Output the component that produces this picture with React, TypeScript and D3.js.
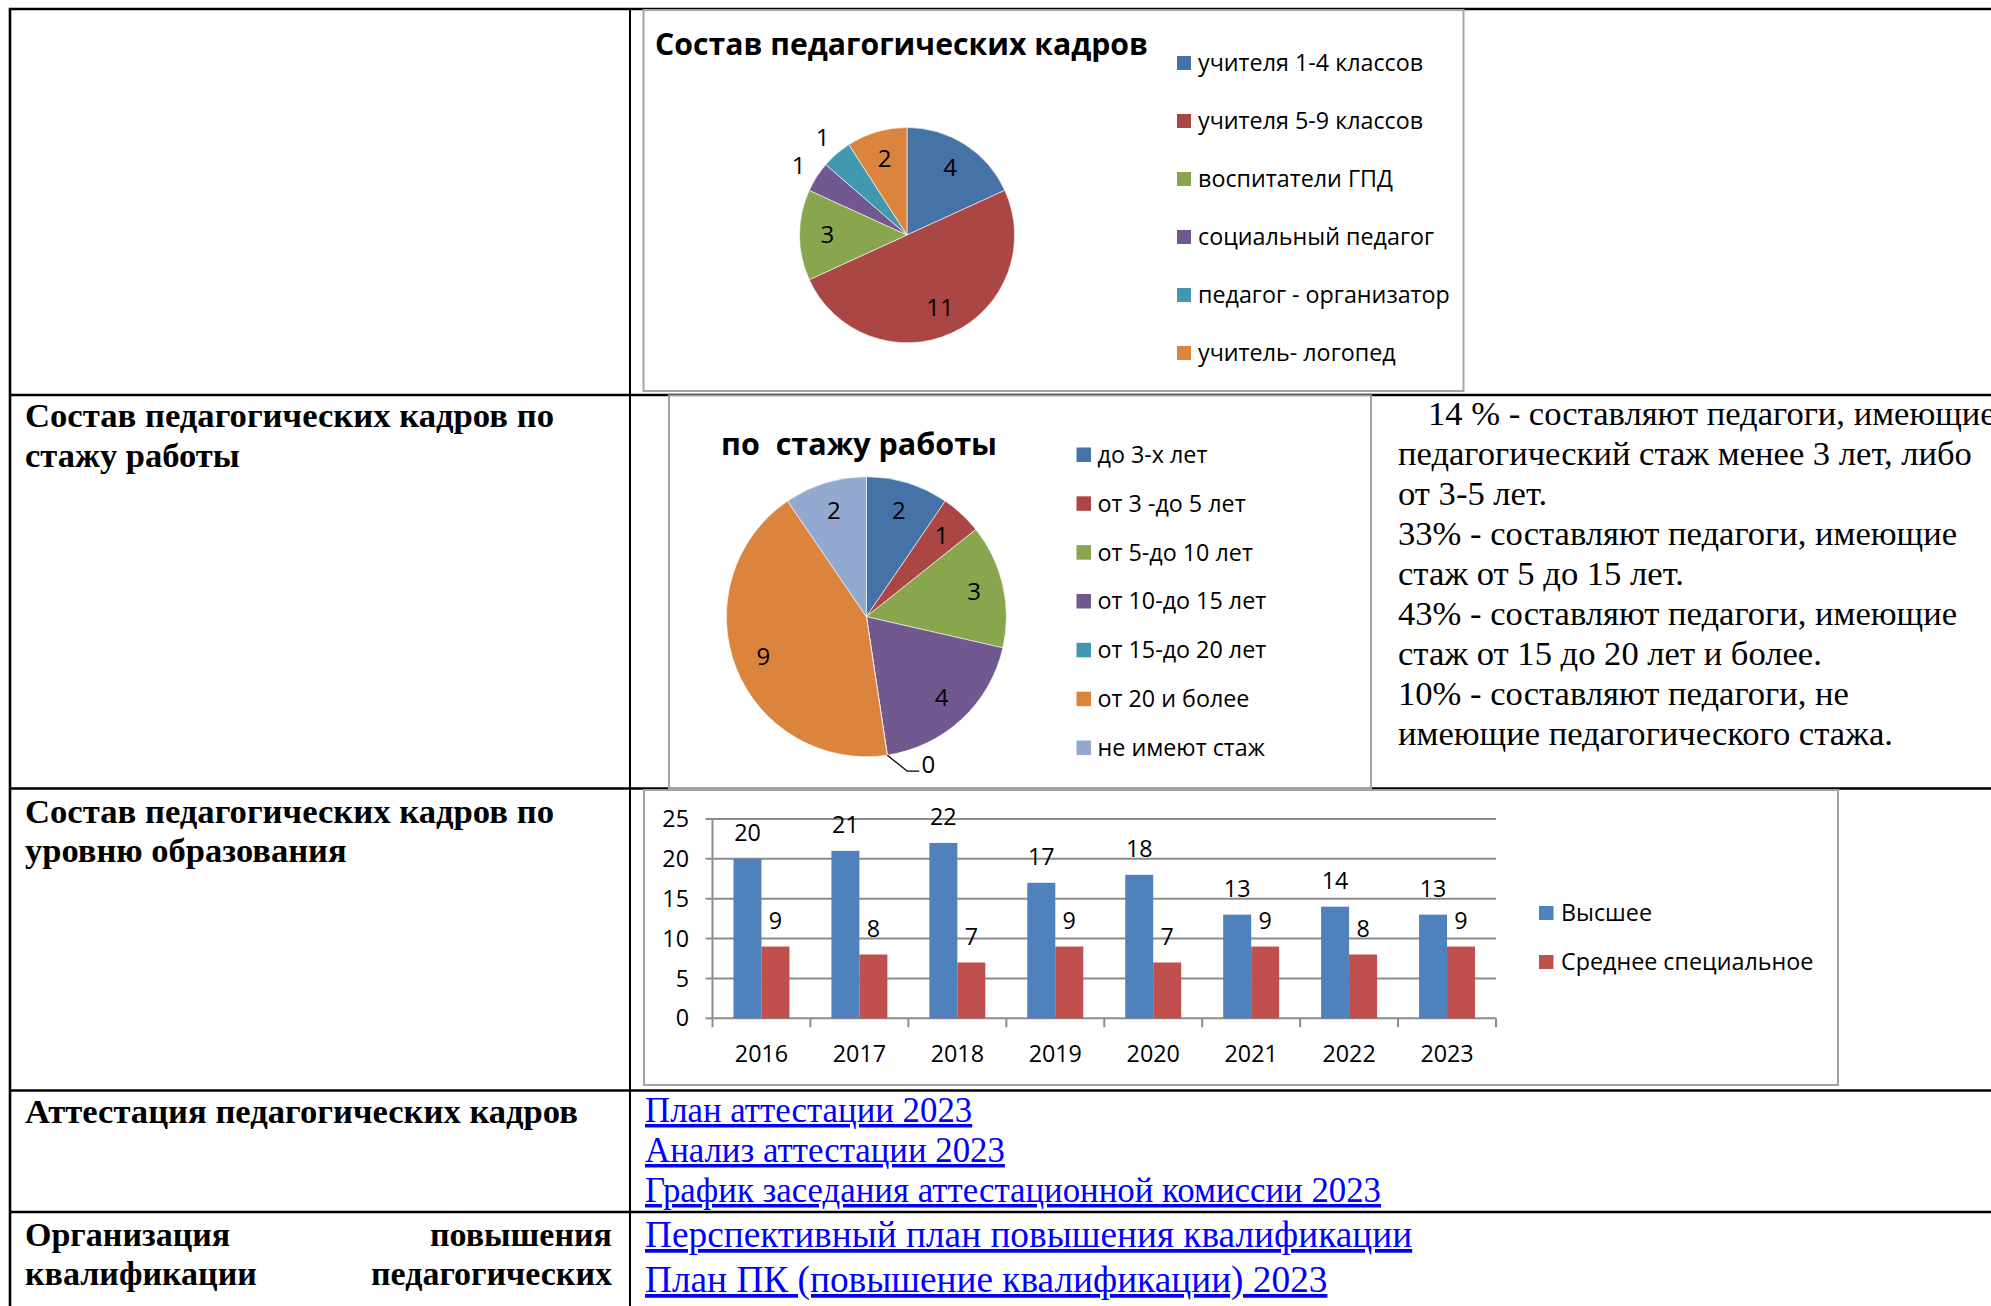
import * as d3 from 'd3';

// pie 1: staff composition
const staffLabels = ['учителя 1-4 классов', 'учителя 5-9 классов', 'воспитатели ГПД', 'социальный педагог', 'педагог - организатор', 'учитель- логопед'];
const staffCounts = [4, 11, 3, 1, 1, 2];

// pie 2: by length of service
const tenureLabels = ['до 3-х лет', 'от 3 -до 5 лет', 'от 5-до 10 лет', 'от 10-до 15 лет', 'от 15-до 20 лет', 'от 20 и более', 'не имеют стаж'];
const tenureCounts = [2, 1, 3, 4, 0, 9, 2];

// bars: level of education
const years = ['2016', '2017', '2018', '2019', '2020', '2021', '2022', '2023'];
const higherEd = [20, 21, 22, 17, 18, 13, 14, 13];
const vocationalEd = [9, 8, 7, 9, 7, 9, 8, 9];
const eduSeries = ['Высшее', 'Среднее специальное'];
const yTicks = [0, 5, 10, 15, 20, 25];

const pieColors = ['#4572A7', '#AA4643', '#89A54E', '#71588F', '#4198AF', '#DB843D', '#93A9CF'];
const barColors = ['#4F81BD', '#C0504D'];

const tenureNotes = [
    '14 % - составляют педагоги, имеющие',
    'педагогический стаж менее 3 лет, либо',
    'от 3-5 лет.',
    '33% - составляют педагоги, имеющие',
    'стаж от 5 до 15 лет.',
    '43% - составляют педагоги, имеющие',
    'стаж от 15 до 20 лет и более.',
    '10% - составляют педагоги, не',
    'имеющие педагогического стажа.',
];
const attestationLinks = ['План аттестации 2023', 'Анализ аттестации 2023', 'График заседания аттестационной комиссии 2023'];
const trainingLinks = ['Перспективный план повышения квалификации', 'План ПК (повышение квалификации) 2023'];

const W = 1991;
const H = 1306;
const sans = "'Open Sans', 'Noto Sans', sans-serif";
const serif = "'Liberation Serif', 'Times New Roman', serif";
const frameStroke = '#a3a3a3';
const chartFs = 23.3;

const pie = d3.pie<number>().sort(null).value(d => d);

function StaffPie() {
    const cx = 907, cy = 235, r = 107.5;
    const arcs = pie(staffCounts);
    const arc = d3.arc<d3.PieArcDatum<number>>().innerRadius(0).outerRadius(r);
    const legendY = d3.scalePoint<number>().domain(d3.range(staffLabels.length)).range([63, 353]);
    return (
        <g>
            <rect x={643.5} y={10} width={820} height={381} fill="#fff" stroke={frameStroke} strokeWidth={2} />
            <text x={655} y={55} fontFamily={sans} fontWeight={700} fontSize={31} textLength={493} lengthAdjust="spacingAndGlyphs">Состав педагогических кадров</text>
            <g transform={`translate(${cx},${cy})`}>
                {arcs.map((a, i) => (
                    <path key={i} d={arc(a) || ''} fill={pieColors[i]} stroke="#fff" strokeWidth={0.6} />
                ))}
                {arcs.map((a, i) => {
                    const mid = (a.startAngle + a.endAngle) / 2;
                    const [x, y] = d3.pointRadial(mid, a.data > 1 ? r * 0.74 : r * 1.2);
                    return (
                        <text key={i} x={x} y={y} textAnchor="middle" dy="0.35em" fontFamily={sans} fontSize={24} fill="#000">{a.data}</text>
                    );
                })}
            </g>
            {staffLabels.map((l, i) => (
                <g key={l} transform={`translate(1177,${legendY(i)})`}>
                    <rect x={0} y={-7} width={14} height={14} fill={pieColors[i]} />
                    <text x={21} dy="0.36em" fontFamily={sans} fontSize={chartFs} fill="#000">{l}</text>
                </g>
            ))}
        </g>
    );
}

function TenurePie() {
    const cx = 866.4, cy = 616.7, r = 140;
    const arcs = pie(tenureCounts);
    const arc = d3.arc<d3.PieArcDatum<number>>().innerRadius(0).outerRadius(r);
    const legendY = d3.scalePoint<number>().domain(d3.range(tenureLabels.length)).range([454.5, 747.5]);
    return (
        <g>
            <rect x={669} y={395.5} width={702} height={392.5} fill="#fff" stroke={frameStroke} strokeWidth={2} />
            <text x={721} y={455} fontFamily={sans} fontWeight={700} fontSize={31} textLength={276} lengthAdjust="spacingAndGlyphs" style={{ whiteSpace: 'pre' }}>по  стажу работы</text>
            <g transform={`translate(${cx},${cy})`}>
                {arcs.map((a, i) => (
                    <path key={i} d={arc(a) || ''} fill={pieColors[i]} stroke="#fff" strokeWidth={0.6} />
                ))}
                {arcs.map((a, i) => {
                    const mid = (a.startAngle + a.endAngle) / 2;
                    if (a.data === 0) {
                        const [x0, y0] = d3.pointRadial(mid, r);
                        const x1 = x0 + 20, y1 = y0 + 16, x2 = x1 + 12;
                        return (
                            <g key={i}>
                                <polyline points={`${x0},${y0} ${x1},${y1} ${x2},${y1}`} fill="none" stroke="#000" strokeWidth={1.3} />
                                <text x={x2 + 9} y={y1 - 7} textAnchor="middle" dy="0.35em" fontFamily={sans} fontSize={24}>{a.data}</text>
                            </g>
                        );
                    }
                    const [x, y] = d3.pointRadial(mid, r * 0.79);
                    return (
                        <text key={i} x={x} y={y} textAnchor="middle" dy="0.35em" fontFamily={sans} fontSize={24} fill="#000">{a.data}</text>
                    );
                })}
            </g>
            {tenureLabels.map((l, i) => (
                <g key={l} transform={`translate(1076.5,${legendY(i)})`}>
                    <rect x={0} y={-7} width={14.5} height={14.5} fill={pieColors[i]} />
                    <text x={21} dy="0.36em" fontFamily={sans} fontSize={chartFs} fill="#000">{l}</text>
                </g>
            ))}
        </g>
    );
}

function EducationBars() {
    const x = d3.scaleBand<string>().domain(years).range([712.5, 1496]).paddingInner(0).paddingOuter(0);
    const y = d3.scaleLinear().domain([0, 25]).range([1018.3, 819]);
    const bw = x.bandwidth() / 3.5;
    const series = [higherEd, vocationalEd];
    const legendY = d3.scalePoint<number>().domain([0, 1]).range([913, 962]);
    const boundaries = [...years.map(yr => x(yr) as number), x.range()[1]];
    return (
        <g>
            <rect x={644} y={790} width={1194} height={295} fill="#fff" stroke={frameStroke} strokeWidth={2} />
            {yTicks.map(t => (
                <g key={t}>
                    <line x1={x.range()[0] - 7} x2={x.range()[1]} y1={y(t)} y2={y(t)} stroke="#8c8c8c" strokeWidth={2} />
                    <text x={689} y={y(t)} dy="0.35em" textAnchor="end" fontFamily={sans} fontSize={chartFs}>{t}</text>
                </g>
            ))}
            <line x1={x.range()[0]} x2={x.range()[0]} y1={y(25)} y2={y(0)} stroke="#8c8c8c" strokeWidth={2} />
            {boundaries.map((b, i) => (
                <line key={i} x1={b} x2={b} y1={y(0)} y2={y(0) + 9} stroke="#8c8c8c" strokeWidth={2} />
            ))}
            {series.map((vals, s) => (
                <g key={s}>
                    {vals.map((v, i) => {
                        const bx = (x(years[i]) as number) + bw * 0.75 + s * bw;
                        return (
                            <g key={i}>
                                <rect x={bx} y={y(v)} width={bw} height={y(0) - y(v)} fill={barColors[s]} />
                                <text x={bx + bw / 2} y={y(v) - 26} dy="0.35em" textAnchor="middle" fontFamily={sans} fontSize={chartFs}>{v}</text>
                            </g>
                        );
                    })}
                </g>
            ))}
            {years.map(yr => (
                <text key={yr} x={(x(yr) as number) + x.bandwidth() / 2} y={1053.5} dy="0.35em" textAnchor="middle" fontFamily={sans} fontSize={chartFs}>{yr}</text>
            ))}
            {eduSeries.map((l, i) => (
                <g key={l} transform={`translate(1539,${legendY(i)})`}>
                    <rect x={0} y={-7} width={14.5} height={14} fill={barColors[i]} />
                    <text x={22} dy="0.36em" fontFamily={sans} fontSize={chartFs}>{l}</text>
                </g>
            ))}
        </g>
    );
}

function Bold({ x, y, children, anchor = 'start', size = 34.5, len }: { x: number; y: number; children: string; anchor?: string; size?: number; len?: number }) {
    return (
        <text x={x} y={y} textAnchor={anchor} fontFamily={serif} fontWeight={700} fontSize={size} textLength={len} lengthAdjust={len ? 'spacingAndGlyphs' : undefined}>{children}</text>
    );
}

export default function App() {
    const rowLines = [9, 395, 788.5, 1090.5, 1212];
    return (
        <div style={{ position: 'absolute', left: 0, top: 0 }}>
            <svg width={W} height={H} style={{ display: 'block', background: '#fff' }}>
                {rowLines.map(yy => (
                    <line key={yy} x1={9} x2={W} y1={yy} y2={yy} stroke="#000" strokeWidth={2.6} />
                ))}
                <line x1={10} x2={10} y1={8} y2={H} stroke="#000" strokeWidth={2.6} />
                <line x1={630} x2={630} y1={8} y2={H} stroke="#000" strokeWidth={2} />

                <Bold x={25} y={427} len={529}>Состав педагогических кадров по</Bold>
                <Bold x={25} y={467}>стажу работы</Bold>
                <Bold x={25} y={823} len={529}>Состав педагогических кадров по</Bold>
                <Bold x={25} y={862}>уровню образования</Bold>
                <Bold x={25} y={1123} len={553}>Аттестация педагогических кадров</Bold>
                <Bold x={25} y={1246} size={34}>Организация</Bold>
                <Bold x={612} y={1246} size={34} anchor="end">повышения</Bold>
                <Bold x={25} y={1285} size={34}>квалификации</Bold>
                <Bold x={612} y={1285} size={34} anchor="end">педагогических</Bold>

                <StaffPie />
                <TenurePie />
                <EducationBars />

                {tenureNotes.map((t, i) => (
                    <text key={i} x={i === 0 ? 1428 : 1398} y={425 + i * 40} fontFamily={serif} fontSize={34.6} fill="#000">{t}</text>
                ))}

                {attestationLinks.map((t, i) => (
                    <text key={t} x={645} y={1122 + i * 40} fontFamily={serif} fontSize={34.8} fill="#0000ff" style={{ textDecoration: 'underline' }}>{t}</text>
                ))}
                {trainingLinks.map((t, i) => (
                    <text key={t} x={645} y={1247 + i * 45} fontFamily={serif} fontSize={37.3} fill="#0000ff" style={{ textDecoration: 'underline' }}>{t}</text>
                ))}
            </svg>
        </div>
    );
}
